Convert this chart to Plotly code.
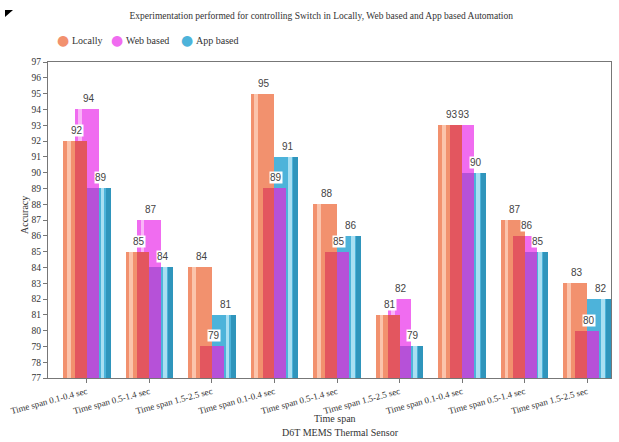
import plotly.graph_objects as go

categories = ["Time span 0.1-0.4 sec", "Time span 0.5-1.4 sec", "Time span 1.5-2.5 sec",
              "Time span 0.1-0.4 sec", "Time span 0.5-1.4 sec", "Time span 1.5-2.5 sec",
              "Time span 0.1-0.4 sec", "Time span 0.5-1.4 sec", "Time span 1.5-2.5 sec"]
locally = [92, 85, 84, 95, 88, 81, 93, 87, 83]
web_based = [94, 87, 79, 89, 85, 82, 93, 86, 80]
app_based = [89, 84, 81, 91, 86, 79, 90, 85, 82]
series_names = ["Locally", "Web based", "App based"]
y_ticks = list(range(77, 98))

FONT = "Liberation Serif"
LBL_FONT = "Liberation Sans"
W = 0.38
OFF = {"Locally": -0.38, "Web based": -0.19, "App based": 0.0}
COL = {"Locally": "#F2916E", "Web based": "#F06CF0", "App based": "#4DB3DA"}
HL = {"Locally": "#FBC4AC", "Web based": "#FAB4F8", "App based": "#A9DFF2"}
x = list(range(len(categories)))
BASE = 77

fig = go.Figure()

def bar(vals, offset, width, color):
    fig.add_trace(go.Bar(x=x, y=[v - BASE for v in vals], base=BASE, offset=offset, width=width,
                         marker=dict(color=color, line=dict(width=0)), showlegend=False,
                         hoverinfo="skip"))

# App based
bar(app_based, OFF["App based"], W, COL["App based"])
bar(app_based, OFF["App based"] + 0.30, 0.08, "#2F95BC")
bar(app_based, OFF["App based"] + 0.22, 0.06, HL["App based"])
# Web based
bar(web_based, OFF["Web based"], W, COL["Web based"])
bar(web_based, OFF["Web based"] + 0.05, 0.06, HL["Web based"])
# overlap web/app -> purple
bar([min(a, b) for a, b in zip(web_based, app_based)], OFF["App based"], OFF["Web based"] + W - OFF["App based"], "#B651D8")
# Locally
bar(locally, OFF["Locally"], W, COL["Locally"])
bar(locally, OFF["Locally"] + 0.06, 0.06, HL["Locally"])
# overlap locally/web -> red
bar([min(a, b) for a, b in zip(locally, web_based)], OFF["Web based"], OFF["Locally"] + W - OFF["Web based"], "#E3565F")

annotations = []
for name, vals in zip(series_names, [locally, web_based, app_based]):
    for i, v in enumerate(vals):
        annotations.append(dict(x=i + OFF[name] + W / 2 + 0.03, y=v, xref="x", yref="y", text=str(v),
                                showarrow=False, yanchor="bottom", yshift=4, bgcolor="white",
                                font=dict(family=LBL_FONT, size=10, color="#444"), borderpad=0))

# legend
leg_x = [63, 117, 187]
for name, lx in zip(series_names, leg_x):
    annotations.append(dict(x=lx, y=40, xref="paper", yref="paper", text="●", showarrow=False,
                            font=dict(family="DejaVu Sans", size=14, color=COL[name]), xanchor="center", yanchor="middle"))
    annotations.append(dict(x=lx + 7, y=40, xref="paper", yref="paper", text=name, showarrow=False,
                            font=dict(family=FONT, size=10, color="#333"), xanchor="left", yanchor="middle"))

L, R, T, B = 48, 8, 62, 64
PW, PH = 619 - L - R, 442 - T - B
def px(xp): return (xp - L) / PW
def py(yp): return (442 - B - yp) / PH
for a in annotations:
    if a["xref"] == "paper":
        a["x"] = px(a["x"]); a["y"] = py(a["y"])

annotations.append(dict(x=px(335), y=py(418), xref="paper", yref="paper", text="Time span", showarrow=False,
                        font=dict(family=FONT, size=10, color="#333"), xanchor="center", yanchor="middle"))
annotations.append(dict(x=px(340), y=py(432), xref="paper", yref="paper", text="D6T MEMS Thermal Sensor", showarrow=False,
                        font=dict(family=FONT, size=10, color="#333"), xanchor="center", yanchor="middle"))
annotations.append(dict(x=px(24), y=py(215), xref="paper", yref="paper", text="Accuracy", showarrow=False, textangle=-90,
                        font=dict(family=FONT, size=10, color="#333"), xanchor="center", yanchor="middle"))

fig.update_layout(
    width=619, height=442, margin=dict(l=L, r=R, t=T, b=B),
    paper_bgcolor="white", plot_bgcolor="white", barmode="overlay", bargap=0,
    title=dict(text="Experimentation performed for controlling Switch in Locally, Web based and App based Automation",
               x=0.519, xref="container", y=1 - 16 / 442, yref="container", yanchor="middle", xanchor="center",
               font=dict(family=FONT, size=9.5, color="#333")),
    annotations=annotations,
    xaxis=dict(tickmode="array", tickvals=x, ticktext=categories, range=[-0.62, 8.38], tickangle=-15,
               showline=True, linecolor="#777", mirror=True, ticks="outside", ticklen=4, tickcolor="#777",
               showgrid=False, zeroline=False, tickfont=dict(family=FONT, size=9, color="#333")),
    yaxis=dict(range=[77, 97], tickvals=y_ticks, showline=True, linecolor="#777", mirror=True,
               ticks="outside", ticklen=4, tickcolor="#777", showgrid=False, zeroline=False,
               tickfont=dict(family=FONT, size=9.5, color="#333")),
    shapes=[dict(type="path", xref="paper", yref="paper",
                 path=f"M {px(5)} {py(10)} L {px(13)} {py(10)} L {px(5)} {py(17)} Z",
                 fillcolor="black", line=dict(width=0))],
)

fig.write_html("out.html")
